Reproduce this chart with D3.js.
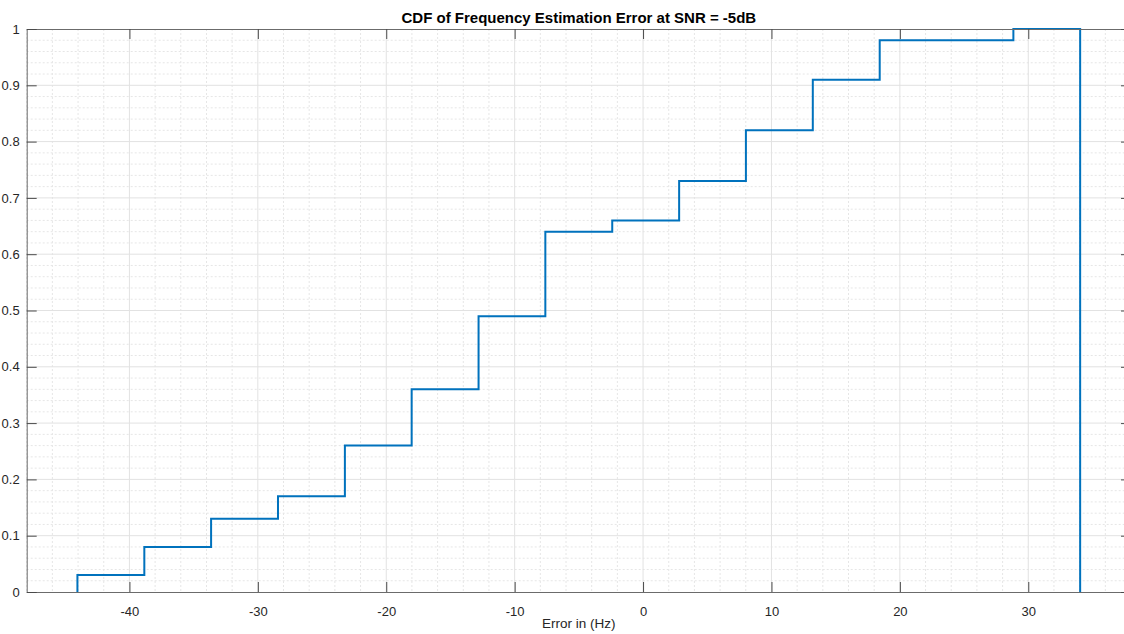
<!DOCTYPE html>
<html>
<head>
<meta charset="utf-8">
<script src="https://cdn.jsdelivr.net/npm/d3@7"></script>
<style>
  html, body { margin: 0; padding: 0; background: #fff; }
  svg { display: block; font-family: "Liberation Sans", Arial, Helvetica, sans-serif; }
</style>
</head>
<body>
<svg id="chart" width="1124" height="634"></svg>
<script>
// Bin edges of the empirical CDF (Hz) and the cumulative probability at each edge
const binEdges = [-44.05, -38.84, -33.64, -28.43, -23.22, -18.02, -12.81, -7.61,
                  -2.40, 2.81, 8.01, 13.22, 18.43, 23.63, 28.84, 34.04];
const cdfValues = [0.03, 0.08, 0.13, 0.17, 0.26, 0.36, 0.49, 0.64,
                   0.66, 0.73, 0.82, 0.91, 0.98, 0.98, 1.00];
const xTickValues = [-40, -30, -20, -10, 0, 10, 20, 30];
const yTickValues = [0, 0.1, 0.2, 0.3, 0.4, 0.5, 0.6, 0.7, 0.8, 0.9, 1];

const titleText = "CDF of Frequency Estimation Error at SNR = -5dB";
const xLabelText = "Error in (Hz)";

const svg = d3.select("#chart");
const plot = { left: 26.7, right: 1131, top: 29, bottom: 592 };

const x = d3.scaleLinear().domain([-48, 38]).range([plot.left, plot.right]);
const y = d3.scaleLinear().domain([0, 1]).range([plot.bottom, plot.top]);

const axisColor = "#262626";
const plotCenterX = (plot.left + plot.right) / 2;

// Grid: minor dotted every 2 Hz / 0.02, major solid at tick values
const minorX = d3.range(-48, 38.001, 2).filter(v => v % 10 !== 0);
const minorY = d3.range(0, 1.0001, 0.02).map(v => +v.toFixed(2))
  .filter(v => Math.abs(v * 10 - Math.round(v * 10)) > 1e-6);

const grid = svg.append("g");
grid.selectAll(".mx").data(minorX).join("line")
  .attr("x1", d => x(d)).attr("x2", d => x(d))
  .attr("y1", plot.top).attr("y2", plot.bottom)
  .attr("stroke", "#e6e6e6").attr("stroke-width", 1).attr("stroke-dasharray", "2,2");
grid.selectAll(".my").data(minorY).join("line")
  .attr("x1", plot.left).attr("x2", plot.right)
  .attr("y1", d => y(d)).attr("y2", d => y(d))
  .attr("stroke", "#e6e6e6").attr("stroke-width", 1).attr("stroke-dasharray", "2,2");
grid.selectAll(".Mx").data(xTickValues).join("line")
  .attr("x1", d => x(d)).attr("x2", d => x(d))
  .attr("y1", plot.top).attr("y2", plot.bottom)
  .attr("stroke", "#e2e2e2").attr("stroke-width", 1);
grid.selectAll(".My").data(yTickValues.slice(1, -1)).join("line")
  .attr("x1", plot.left).attr("x2", plot.right)
  .attr("y1", d => y(d)).attr("y2", d => y(d))
  .attr("stroke", "#e2e2e2").attr("stroke-width", 1);

// Staircase CDF
const pts = [[binEdges[0], 0]]
  .concat(cdfValues.map((v, i) => [binEdges[i], v]))
  .concat([[binEdges[binEdges.length - 1], 0]]);
const stairs = d3.line().x(d => x(d[0])).y(d => y(d[1])).curve(d3.curveStepAfter);
svg.append("path").datum(pts)
  .attr("d", stairs)
  .attr("fill", "none")
  .attr("stroke", "#0072BD")
  .attr("stroke-width", 2)
  .attr("stroke-linejoin", "miter");

// Axes with inward ticks; labels use a plain hyphen for negatives
const tickLen = 10;
const plain = d => String(+d.toFixed(2));
const xAxisB = d3.axisBottom(x).tickValues(xTickValues).tickSizeInner(-tickLen).tickSizeOuter(0).tickPadding(15).tickFormat(plain);
const xAxisT = d3.axisTop(x).tickValues(xTickValues).tickSizeInner(-tickLen).tickSizeOuter(0).tickFormat("");
const yAxisL = d3.axisLeft(y).tickValues(yTickValues).tickSizeInner(-tickLen).tickSizeOuter(0).tickPadding(7).tickFormat(plain);
const yAxisR = d3.axisRight(y).tickValues(yTickValues).tickSizeInner(-tickLen).tickSizeOuter(0).tickFormat("");

function styleAxis(g) {
  g.select(".domain").attr("stroke", "#6b6b6b").attr("stroke-width", 1);
  g.selectAll(".tick line").attr("stroke", "#4a4a4a").attr("stroke-width", 1);
  g.selectAll(".tick text").attr("fill", axisColor).attr("font-size", 13)
    .attr("font-family", "Liberation Sans, Arial, sans-serif");
}

svg.append("g").attr("transform", `translate(0,${plot.bottom})`).call(xAxisB).call(styleAxis);
svg.append("g").attr("transform", `translate(0,${plot.top})`).call(xAxisT).call(styleAxis);
svg.append("g").attr("transform", `translate(${plot.left},0)`).call(yAxisL).call(styleAxis);
svg.append("g").attr("transform", `translate(${plot.right},0)`).call(yAxisR).call(styleAxis);

// Title and axis label, centred over the plot area
svg.append("text")
  .attr("x", plotCenterX).attr("y", 23)
  .attr("text-anchor", "middle")
  .attr("font-size", 15).attr("font-weight", "bold").attr("fill", "#000")
  .text(titleText);

svg.append("text")
  .attr("x", plotCenterX).attr("y", 628)
  .attr("text-anchor", "middle")
  .attr("font-size", 13.5).attr("fill", axisColor)
  .text(xLabelText);
</script>
</body>
</html>
